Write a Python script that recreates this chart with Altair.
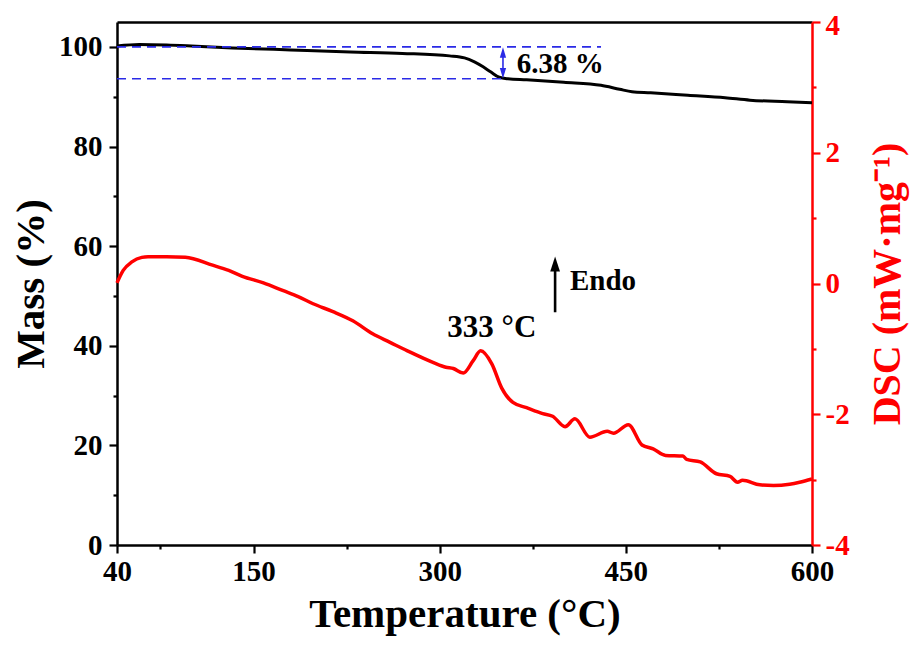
import altair as alt
import pandas as pd

# ---- data ----
mass_T = [40, 58, 80, 100, 133, 180, 228, 270, 308, 320, 328, 335, 341, 348, 355, 370,
          400, 430, 445, 455, 470, 500, 530, 550, 580, 600]
mass_val = [100.2, 100.5, 100.4, 100.2, 99.8, 99.4, 99.0, 98.7, 98.2, 97.8, 97.0, 96.0,
            95.0, 93.9, 93.6, 93.4, 92.9, 92.3, 91.5, 91.0, 90.8, 90.3, 89.8, 89.3, 89.0, 88.8]

dsc_T = [40, 45, 52, 60, 65, 80, 95, 117, 130, 141, 158, 174, 186, 198, 214, 230, 246, 260,
         274, 295, 305, 311, 319, 327, 333, 342, 350, 359, 370, 383, 391, 401, 409, 421,
         435, 440, 452, 463, 472, 482, 496, 499, 510, 523, 534, 540, 544, 558, 569, 582,
         590, 600]
dsc_val = [0.01, 0.20, 0.33, 0.40, 0.41, 0.41, 0.40, 0.28, 0.20, 0.11, 0.01, -0.11, -0.20,
           -0.31, -0.43, -0.57, -0.77, -0.90, -1.03, -1.21, -1.28, -1.30, -1.37, -1.18,
           -1.03, -1.23, -1.60, -1.82, -1.90, -1.99, -2.03, -2.19, -2.07, -2.35, -2.26,
           -2.29, -2.16, -2.47, -2.53, -2.63, -2.64, -2.69, -2.73, -2.91, -2.95, -3.04,
           -3.01, -3.08, -3.09, -3.07, -3.04, -2.99]

x_major = [40, 150, 300, 450, 600]
x_minor = [75, 225, 375, 525]
yl_major = [0, 20, 40, 60, 80, 100]
yl_minor = [10, 30, 50, 70, 90]
yr_major = [-4, -2, 0, 2, 4]
yr_minor = [-3, -1, 1, 3]

# annotation values
loss_top = 100.0
loss_pct = 6.38
loss_line_end_T = [430, 351]
loss_arrow_T = 351
peak_T = 333
endo_T = 393

FONT = "Liberation Serif"
BLUE = "#2a2ae6"
RED = "#ff0000"

mass_df = pd.DataFrame({"T": mass_T, "Mass": mass_val})
dsc_df = pd.DataFrame({"T": dsc_T, "DSC": dsc_val})

xs = alt.Scale(domain=[40, 600], nice=False, zero=False)
yls = alt.Scale(domain=[0, 105], nice=False, zero=False)
yrs = alt.Scale(domain=[-4, 4], nice=False, zero=False)

common = dict(labelFont=FONT, labelFontWeight="bold", labelFontSize=29,
              titleFont=FONT, titleFontWeight="bold", tickWidth=2.2,
              domainWidth=2.5, grid=False, labelFlush=False, labelOverlap=False)

ax_x = alt.Axis(values=x_major, title="Temperature (°C)", titleFontSize=41, orient="bottom",
                tickSize=8, labelPadding=4, titlePadding=8, domainColor="black",
                tickColor="black", labelColor="black", titleColor="black", **common)
ax_x_minor = alt.Axis(values=x_minor, labels=False, title=None, domain=False, orient="bottom",
                      tickSize=4, tickWidth=2.2, tickColor="black", grid=False)
ax_x_top = alt.Axis(labels=False, ticks=False, title=None, domain=True, orient="top",
                    domainColor="black", domainWidth=2.5, grid=False)
ax_yl = alt.Axis(values=yl_major, title="Mass (%)", titleFontSize=41, orient="left",
                 tickSize=8, labelPadding=7, titlePadding=6, domainColor="black",
                 tickColor="black", labelColor="black", titleColor="black", **common)
ax_yl_minor = alt.Axis(values=yl_minor, labels=False, title=None, domain=False,
                       orient="left", tickSize=4, tickWidth=2.2, tickColor="black", grid=False)
ax_yr = alt.Axis(values=yr_major, title="DSC (mW·mg⁻¹)", titleFontSize=40, orient="right",
                 titleAngle=270, titleBaseline="top",
                 labelExpr="'' + datum.value",
                 labelOffset={"condition": {"test": "datum.value == 4", "value": 3}, "value": 0},
                 tickSize=8, labelPadding=5, titlePadding=18, domainColor=RED,
                 tickColor=RED, labelColor=RED, titleColor=RED, **common)
ax_yr_minor = alt.Axis(values=yr_minor, labels=False, title=None, domain=False,
                       orient="right", tickSize=4, tickWidth=2.2, tickColor=RED, grid=False)

# ---- left (mass) group ----
mass_line = alt.Chart(mass_df).mark_line(color="black", strokeWidth=3, interpolate="monotone").encode(
    x=alt.X("T:Q", scale=xs, axis=ax_x),
    y=alt.Y("Mass:Q", scale=yls, axis=ax_yl),
)
mass_minor = alt.Chart(mass_df).mark_line(opacity=0).encode(
    x=alt.X("T:Q", scale=xs, axis=ax_x_minor),
    y=alt.Y("Mass:Q", scale=yls, axis=ax_yl_minor),
)
top_frame = alt.Chart(mass_df).mark_line(opacity=0).encode(
    x=alt.X("T:Q", scale=xs, axis=ax_x_top),
    y=alt.Y("Mass:Q", scale=yls, axis=None),
)

dash_df = pd.DataFrame({
    "T": [40, loss_line_end_T[0], 40, loss_line_end_T[1]],
    "Mass": [loss_top, loss_top, loss_top - loss_pct, loss_top - loss_pct],
    "seg": ["a", "a", "b", "b"],
})
dashes = alt.Chart(dash_df).mark_line(color=BLUE, strokeWidth=1.6, strokeDash=[9, 6]).encode(
    x=alt.X("T:Q", scale=xs, axis=None),
    y=alt.Y("Mass:Q", scale=yls, axis=None),
    detail="seg:N",
)
arrow_df = pd.DataFrame({"T": [loss_arrow_T], "top": [loss_top - 1.2], "bot": [loss_top - loss_pct + 1.2]})
arrow_rule = alt.Chart(arrow_df).mark_rule(color=BLUE, strokeWidth=1.6).encode(
    x=alt.X("T:Q", scale=xs, axis=None),
    y=alt.Y("top:Q", scale=yls, axis=None),
    y2="bot:Q",
)
head_df = pd.DataFrame({"T": [loss_arrow_T, loss_arrow_T],
                        "Mass": [loss_top - 1.1, loss_top - loss_pct + 1.1],
                        "dir": ["up", "down"]})
heads = alt.Chart(head_df).mark_point(filled=True, color=BLUE, opacity=1, size=110).encode(
    x=alt.X("T:Q", scale=xs, axis=None),
    y=alt.Y("Mass:Q", scale=yls, axis=None),
    shape=alt.Shape("dir:N", scale=alt.Scale(domain=["up", "down"],
                                              range=["M-0.6,1L0,-1L0.6,1Z", "M-0.6,-1L0,1L0.6,-1Z"]),
                    legend=None),
)
pct_df = pd.DataFrame({"T": [362], "Mass": [96.6], "label": [f"{loss_pct:.2f} %"]})
pct_text = alt.Chart(pct_df).mark_text(font=FONT, fontWeight="bold", fontSize=29, align="left",
                                       baseline="middle", color="black").encode(
    x=alt.X("T:Q", scale=xs, axis=None),
    y=alt.Y("Mass:Q", scale=yls, axis=None),
    text="label:N",
)

left = alt.layer(mass_line, mass_minor, top_frame, dashes, arrow_rule, heads, pct_text).resolve_axis(
    x="independent", y="independent")

# ---- right (DSC) group ----
dsc_line = alt.Chart(dsc_df).mark_line(color=RED, strokeWidth=3.5, interpolate="monotone").encode(
    x=alt.X("T:Q", scale=xs, axis=None),
    y=alt.Y("DSC:Q", scale=yrs, axis=ax_yr),
)
dsc_minor = alt.Chart(dsc_df).mark_line(opacity=0).encode(
    x=alt.X("T:Q", scale=xs, axis=None),
    y=alt.Y("DSC:Q", scale=yrs, axis=ax_yr_minor),
)
peak_df = pd.DataFrame({"T": [342], "DSC": [-0.68], "label": [f"{peak_T} °C"]})
peak_text = alt.Chart(peak_df).mark_text(font=FONT, fontWeight="bold", fontSize=31, align="center",
                                         baseline="middle", color="black").encode(
    x=alt.X("T:Q", scale=xs, axis=None),
    y=alt.Y("DSC:Q", scale=yrs, axis=None),
    text="label:N",
)
endo_rule_df = pd.DataFrame({"T": [endo_T], "a": [-0.44], "b": [0.25]})
endo_rule = alt.Chart(endo_rule_df).mark_rule(color="black", strokeWidth=2.6).encode(
    x=alt.X("T:Q", scale=xs, axis=None),
    y=alt.Y("a:Q", scale=yrs, axis=None),
    y2="b:Q",
)
endo_head_df = pd.DataFrame({"T": [endo_T], "DSC": [0.30]})
endo_head = alt.Chart(endo_head_df).mark_point(filled=True, color="black", opacity=1, size=225,
                                               shape="M-0.65,1L0,-1L0.65,1Z").encode(
    x=alt.X("T:Q", scale=xs, axis=None),
    y=alt.Y("DSC:Q", scale=yrs, axis=None),
)
endo_text_df = pd.DataFrame({"T": [405], "DSC": [0.04], "label": ["Endo"]})
endo_text = alt.Chart(endo_text_df).mark_text(font=FONT, fontWeight="bold", fontSize=29, align="left",
                                              baseline="middle", color="black").encode(
    x=alt.X("T:Q", scale=xs, axis=None),
    y=alt.Y("DSC:Q", scale=yrs, axis=None),
    text="label:N",
)

right = alt.layer(dsc_line, dsc_minor, peak_text, endo_rule, endo_head, endo_text).resolve_axis(
    x="independent", y="independent")

chart = alt.layer(left, right).resolve_scale(y="independent").resolve_axis(x="independent").properties(
    width=695, height=523,
    autosize="none",
    background="white",
    padding={"left": 109, "top": 14, "right": 102, "bottom": 96},
).configure_view(stroke=None)

chart.save("out.html", embed_options={"renderer": "svg", "actions": False})
